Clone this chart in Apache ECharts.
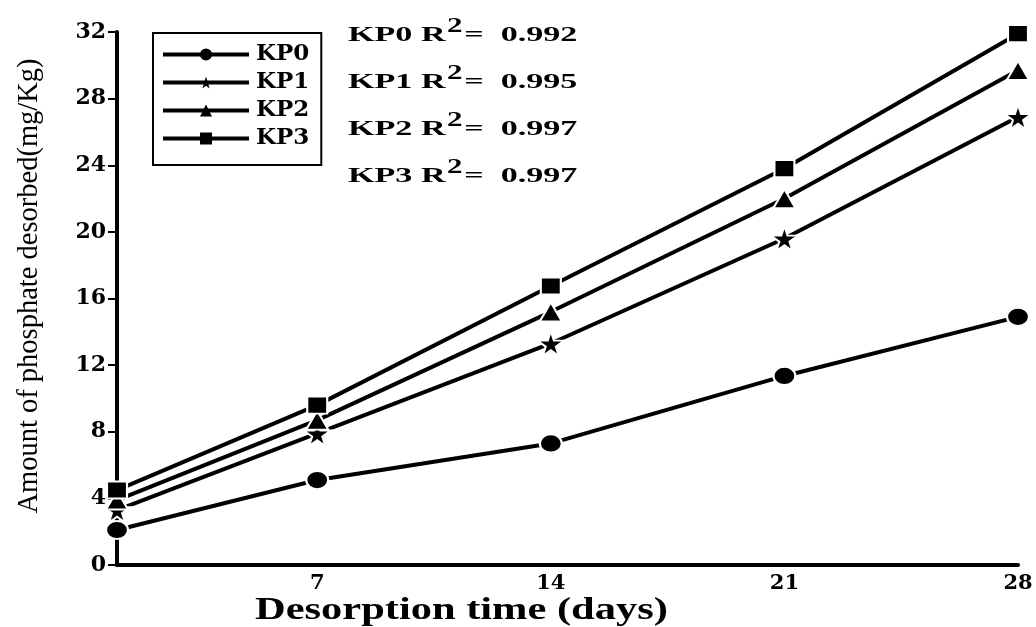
<!DOCTYPE html>
<html>
<head>
<meta charset="utf-8">
<script src="https://cdn.jsdelivr.net/npm/echarts@6/dist/echarts.min.js"></script>
<style>
html,body{margin:0;padding:0;background:#fff;}
#main{width:1036px;height:627px;}
</style>
</head>
<body>
<div id="main"></div>
<script>
// desorption time (days) and amount desorbed (mg/Kg)
var days = [1, 7, 14, 21, 28];
var kp0 = [2.1, 5.1, 7.3, 11.35, 14.9];
var kp1 = [3.3, 7.9, 13.3, 19.6, 26.9];
var kp2 = [3.9, 8.7, 15.2, 22.0, 29.7];
var kp3 = [4.5, 9.6, 16.75, 23.8, 31.9];
var names = ['KP0', 'KP1', 'KP2', 'KP3'];
var r2 = ['0.992', '0.995', '0.997', '0.997'];
var xLabels = [7, 14, 21, 28];

var SERIF = '"Liberation Serif", "Times New Roman", serif';
var WIDE = '"DejaVu Serif", serif';
var star = 'path://M50,0 L61,35 L98,35 L68,57 L79,91 L50,70 L21,91 L32,57 L2,35 L39,35 Z';

function pairs(ys) {
    return days.map(function (d, i) { return [d, ys[i]]; });
}
function mkSeries(name, ys, symbol, size) {
    return {
        name: name,
        type: 'line',
        data: pairs(ys),
        symbol: symbol,
        symbolSize: size,
        showAllSymbol: true,
        lineStyle: { color: '#000', width: 4 },
        itemStyle: { color: '#000', borderColor: '#fff', borderWidth: 2 },
        emphasis: { disabled: true },
        animation: false
    };
}

var myChart = echarts.init(document.getElementById('main'));

// R^2 notes, stretched sideways like the original figure
var r2Texts = names.map(function (n, i) {
    return {
        type: 'text',
        x: 348,
        y: 35 + i * 47,
        scaleX: 1.55,
        style: {
            x: 0, y: 0,
            text: '{a|' + n + ' R}{s|2}{a|=  ' + r2[i] + '}',
            verticalAlign: 'middle',
            rich: {
                a: { fontFamily: SERIF, fontWeight: 'bold', fontSize: 22, fill: '#000', lineHeight: 28 },
                s: { fontFamily: SERIF, fontWeight: 'bold', fontSize: 20, fill: '#000', lineHeight: 28, padding: [0, 1, 16, 1] }
            }
        }
    };
});

var option = {
    backgroundColor: '#fff',
    animation: false,
    grid: { left: 117, right: 18, top: 32, bottom: 62, containLabel: false },
    legend: {
        orient: 'vertical',
        left: 153,
        top: 33,
        data: names,
        itemWidth: 86,
        itemHeight: 15,
        itemGap: 5,
        padding: [10, 12, 15, 8],
        borderColor: '#000',
        borderWidth: 2,
        lineStyle: { width: 4 },
        itemStyle: { borderWidth: 0 },
        textStyle: { fontFamily: WIDE, fontWeight: 'bold', fontSize: 23, lineHeight: 20, color: '#000', padding: [0, 0, 0, 2] }
    },
    xAxis: {
        type: 'value',
        min: 1,
        max: 28,
        splitLine: { show: false },
        axisLine: { lineStyle: { color: '#000', width: 4 } },
        axisTick: { show: false },
        axisLabel: {
            customValues: xLabels,
            color: '#000',
            fontFamily: WIDE,
            fontWeight: 'bold',
            fontSize: 21,
            margin: 8
        }
    },
    yAxis: {
        type: 'value',
        min: 0,
        max: 32,
        interval: 4,
        splitLine: { show: false },
        axisLine: { lineStyle: { color: '#000', width: 4 } },
        axisTick: { length: 9, lineStyle: { color: '#000', width: 2 } },
        axisLabel: { color: '#000', fontFamily: WIDE, fontWeight: 'bold', fontSize: 22, margin: 11 }
    },
    graphic: [
        {
            type: 'text',
            x: 29,
            y: 286,
            rotation: Math.PI / 2,
            scaleX: 0.95,
            style: {
                x: 0, y: 0,
                text: 'Amount of phosphate desorbed(mg/Kg)',
                align: 'center',
                verticalAlign: 'middle',
                fontFamily: SERIF,
                fontSize: 30,
                fill: '#000'
            }
        },
        {
            type: 'text',
            x: 255,
            y: 611,
            scaleX: 1.37,
            style: {
                x: 0, y: 0,
                text: 'Desorption time (days)',
                verticalAlign: 'middle',
                fontFamily: SERIF,
                fontWeight: 'bold',
                fontSize: 31,
                fill: '#000'
            }
        }
    ].concat(r2Texts),
    series: [
        mkSeries('KP0', kp0, 'circle', [22, 18]),
        mkSeries('KP1', kp1, star, [27, 25]),
        mkSeries('KP2', kp2, 'triangle', [22, 19]),
        mkSeries('KP3', kp3, 'rect', [20, 17])
    ]
};
myChart.setOption(option);
</script>
</body>
</html>
